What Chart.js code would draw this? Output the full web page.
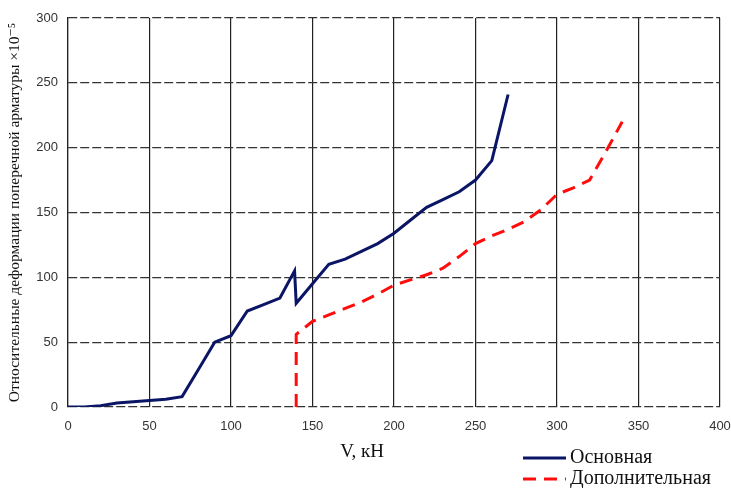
<!DOCTYPE html>
<html>
<head>
<meta charset="utf-8">
<script src="https://cdn.jsdelivr.net/npm/chart.js@4/dist/chart.umd.min.js"></script>
<style>
  html, body { margin: 0; padding: 0; background: #fff; }
  #wrap { width: 731px; height: 488px; position: relative; }
</style>
</head>
<body>
<div id="wrap"><canvas id="c"></canvas></div>
<script>
// основная кривая
const mainX = [0, 10, 20, 30, 40, 50, 60, 70, 80, 90, 100, 110, 120, 130, 139, 140, 150, 160, 170, 180, 190, 200, 210, 220, 230, 240, 250, 260, 270];
const mainY = [0, 0, 1, 3, 4, 5, 6, 8, 29, 50, 55, 74, 79, 84, 105, 80, 95, 110, 114, 120, 126, 134, 144, 154, 160, 166, 175, 190, 241];
// дополнительная кривая
const addX = [140, 140, 150, 160, 170, 180, 190, 200, 210, 220, 230, 240, 250, 260, 270, 280, 290, 300, 310, 320, 330, 340];
const addY = [0, 56, 66, 71, 76, 81, 87, 94, 98, 102, 107, 116, 126, 132, 137, 143, 152, 164, 169, 175, 197, 220];

const seriesNames = ['Основная', 'Дополнительная'];
const xTitle = 'V, кН';
const yTitle = 'Относительные деформации поперечной арматуры ×10⁻⁵';

const toPts = (xs, ys) => xs.map((x, i) => ({ x: x, y: ys[i] }));

const serif = '"Liberation Serif", "DejaVu Serif", serif';
const tickFont = { family: '"Liberation Sans", sans-serif', size: 13 };

// подпись оси X и легенда рисуются вручную
const extras = {
  id: 'extras',
  afterDraw(chart) {
    const ctx = chart.ctx;
    ctx.save();
    ctx.fillStyle = '#111';
    ctx.font = '19px ' + serif;
    ctx.textAlign = 'center';
    ctx.textBaseline = 'middle';
    ctx.fillText(xTitle, 362, 452);

    const ds = chart.data.datasets;
    const rows = [458, 479];
    ds.forEach((d, i) => {
      ctx.strokeStyle = d.borderColor;
      ctx.lineWidth = 3;
      ctx.setLineDash(d.borderDash || []);
      ctx.beginPath();
      ctx.moveTo(523, rows[i]);
      ctx.lineTo(566, rows[i]);
      ctx.stroke();
      ctx.setLineDash([]);
      ctx.textAlign = 'left';
      ctx.fillStyle = '#111';
      ctx.font = '20px ' + serif;
      ctx.fillText(seriesNames[i], 570, rows[i]);
    });
    ctx.restore();
  }
};

new Chart(document.getElementById('c'), {
  type: 'line',
  data: {
    datasets: [
      {
        label: seriesNames[0],
        data: toPts(mainX, mainY),
        borderColor: '#0b1565',
        borderWidth: 3,
        pointRadius: 0,
        tension: 0,
        fill: false
      },
      {
        label: seriesNames[1],
        data: toPts(addX, addY),
        borderColor: '#ff0d0d',
        borderWidth: 3,
        borderDash: [13, 8],
        pointRadius: 0,
        tension: 0,
        fill: false
      }
    ]
  },
  options: {
    responsive: true,
    maintainAspectRatio: false,
    animation: false,
    layout: { padding: { top: 18, right: 11, left: 0, bottom: 0 } },
    plugins: {
      legend: { display: false },
      tooltip: { enabled: false }
    },
    scales: {
      x: {
        type: 'linear',
        min: 0,
        max: 400,
        ticks: {
          stepSize: 50,
          color: '#333',
          font: tickFont,
          padding: 12,
          maxRotation: 0
        },
        grid: { color: '#222', lineWidth: 1.2, drawTicks: false },
        border: { display: false },
        afterFit(s) { s.height = 81; s.paddingRight = 0; s.paddingLeft = 0; }
      },
      y: {
        min: 0,
        max: 300,
        ticks: {
          stepSize: 50,
          color: '#333',
          font: tickFont,
          padding: 10
        },
        grid: { color: '#333', lineWidth: 1.2, drawTicks: false },
        border: { display: true, color: '#222', width: 1.2, dash: [9, 3] },
        title: {
          display: true,
          text: yTitle,
          color: '#111',
          font: { family: serif, size: 15.5 },
          padding: { top: 6, bottom: 0 }
        },
        afterFit(s) { s.width = 68; s.paddingTop = 0; s.paddingBottom = 0; }
      }
    }
  },
  plugins: [extras]
});
</script>
</body>
</html>
